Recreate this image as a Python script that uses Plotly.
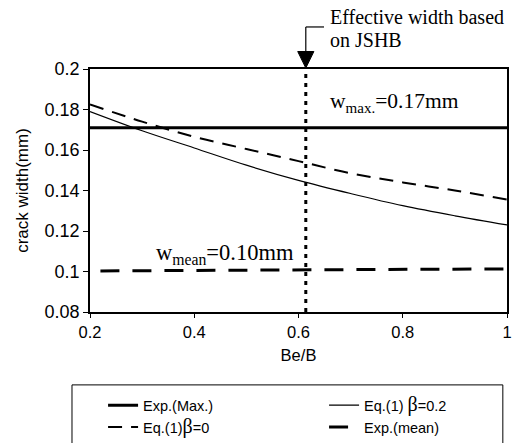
import plotly.graph_objects as go

be_b = [0.2, 0.3, 0.4, 0.5, 0.6, 0.7, 0.8, 0.9, 1.0]
eq1_beta02 = [0.179, 0.1695, 0.161, 0.1525, 0.145, 0.1385, 0.1325, 0.1275, 0.123]
eq1_beta0 = [0.1825, 0.174, 0.1665, 0.1605, 0.1545, 0.1485, 0.144, 0.140, 0.1355]
exp_max_x = [0.2, 1.0]
exp_max = [0.171, 0.171]
exp_mean_x = [0.22, 1.0]
exp_mean = [0.1003, 0.1013]
jshb_x = 0.614

SERIF = "Liberation Serif, Times New Roman, serif"
SANS = "Liberation Sans, Arial, sans-serif"
BETA = '<span style="font-family:Liberation Serif;font-size:20px">β</span>'

fig = go.Figure()
fig.add_trace(go.Scatter(x=exp_max_x, y=exp_max, mode="lines", name="Exp.(Max.)",
                         line=dict(color="black", width=3)))
fig.add_trace(go.Scatter(x=be_b, y=eq1_beta02, mode="lines", name="Eq.(1) " + BETA + "=0.2",
                         line=dict(color="black", width=1.2, shape="spline")))
fig.add_trace(go.Scatter(x=be_b, y=eq1_beta0, mode="lines", name="Eq.(1)" + BETA + "=0",
                         line=dict(color="black", width=2, dash="14px,9px", shape="spline")))
fig.add_trace(go.Scatter(x=exp_mean_x, y=exp_mean, mode="lines", name="Exp.(mean)",
                         line=dict(color="black", width=3, dash="19px,13px")))

# vertical dotted JSHB line
fig.add_shape(type="line", xref="x", yref="paper", x0=jshb_x, x1=jshb_x, y0=0, y1=1,
              line=dict(color="black", width=3, dash="4px,5px"))
# arrow stem and hook
fig.add_shape(type="line", xref="x", yref="paper", x0=jshb_x, x1=jshb_x, y0=1.173, y1=1.07,
              line=dict(color="black", width=1.2))
fig.add_shape(type="line", xref="x", yref="paper", x0=jshb_x, x1=0.649, y0=1.173, y1=1.173,
              line=dict(color="black", width=1.2))
# arrow head
fig.add_shape(type="path", xref="x", yref="paper",
              path=f"M {jshb_x-0.0155} 1.072 L {jshb_x+0.0155} 1.072 L {jshb_x} 1.004 Z",
              fillcolor="black", line=dict(color="black", width=1))
# legend frame
fig.add_shape(type="rect", xref="paper", yref="paper", x0=-0.0432, x1=0.990, y0=-0.62, y1=-0.300,
              line=dict(color="black", width=1), fillcolor="rgba(0,0,0,0)")

fig.add_annotation(x=0.657, y=1.214, xref="x", yref="paper", text="Effective width based",
                   showarrow=False, xanchor="left", yanchor="middle",
                   font=dict(family=SERIF, size=20, color="black"))
fig.add_annotation(x=0.657, y=1.119, xref="x", yref="paper", text="on JSHB",
                   showarrow=False, xanchor="left", yanchor="middle",
                   font=dict(family=SERIF, size=20, color="black"))
fig.add_annotation(x=0.656, y=0.1835, xref="x", yref="y", text="w<sub>max.</sub>=0.17mm",
                   showarrow=False, xanchor="left", yanchor="middle",
                   font=dict(family=SERIF, size=21.5, color="black"))
fig.add_annotation(x=0.322, y=0.1088, xref="x", yref="y", text="w<sub>mean</sub>=0.10mm",
                   showarrow=False, xanchor="left", yanchor="middle",
                   font=dict(family=SERIF, size=22.5, color="black"))

fig.update_layout(
    width=516, height=443,
    margin=dict(l=90, r=9, t=69, b=131, autoexpand=False),
    paper_bgcolor="white", plot_bgcolor="white",
    font=dict(family=SANS, size=14, color="black"),
    showlegend=True,
    legend=dict(orientation="h", x=-0.043, y=-0.318, xanchor="left", yanchor="top",
                borderwidth=0, bgcolor="rgba(0,0,0,0)", indentation=31,
                entrywidth=145, entrywidthmode="pixels",
                font=dict(family=SANS, size=14.5, color="black"),
                traceorder="normal"),
)
fig.update_xaxes(range=[0.2, 1.0], tickmode="array", tickvals=[0.2, 0.4, 0.6, 0.8, 1.0],
                 ticktext=["0.2", "0.4", "0.6", "0.8", "1"], automargin=False,
                 showgrid=False, zeroline=False, showline=True, linecolor="black", linewidth=1.5,
                 mirror=True, ticks="outside", ticklen=4, tickcolor="black",
                 title=dict(text="Be/B", font=dict(family=SANS, size=16.5), standoff=10),
                 tickfont=dict(family=SANS, size=16.5))
fig.update_yaxes(range=[0.08, 0.2], tickmode="array",
                 tickvals=[0.08, 0.1, 0.12, 0.14, 0.16, 0.18, 0.2],
                 ticktext=["0.08", "0.1", "0.12", "0.14", "0.16", "0.18", "0.2"], automargin=False,
                 showgrid=False, zeroline=False, showline=True, linecolor="black", linewidth=1.5,
                 mirror=True, ticks="outside", ticklen=5, tickcolor="black",
                 title=dict(text="crack width(mm)", font=dict(family=SANS, size=17), standoff=12),
                 tickfont=dict(family=SANS, size=18))

fig.write_html("out.html", config={"displayModeBar": False},
               post_script="document.body.style.margin='0px';")
